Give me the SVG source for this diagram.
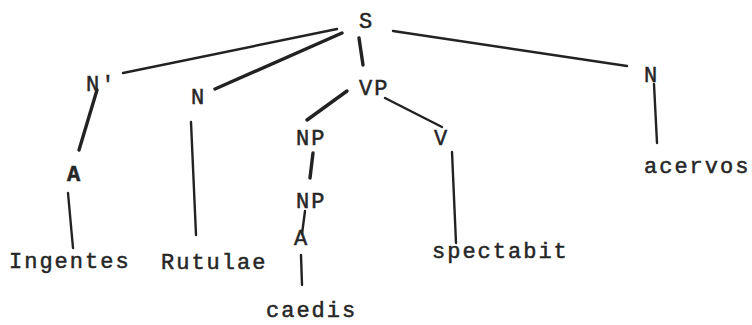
<svg xmlns="http://www.w3.org/2000/svg" width="752" height="325" viewBox="0 0 752 325">
<style>
text{font-family:"Liberation Mono","Courier New",monospace;font-size:22px;letter-spacing:2px;fill:#262626;stroke:#262626;stroke-width:0.5}
.e{stroke:#222;stroke-width:2.4;stroke-linecap:round;fill:none}
.t{stroke-width:3.4}
</style>
<rect width="752" height="325" fill="#fff"/>
<g id="connectors">
<line class="e" x1="337" y1="29" x2="123" y2="73"/>
<line class="e t" x1="342" y1="33" x2="215" y2="89"/>
<line class="e t" x1="359" y1="38" x2="363" y2="65"/>
<line class="e" x1="393" y1="31" x2="627" y2="66"/>
<line class="e t" x1="347" y1="91" x2="307" y2="120"/>
<line class="e" x1="385" y1="98" x2="442" y2="127"/>
<line class="e t" x1="97" y1="90" x2="79" y2="150"/>
<line class="e" x1="68" y1="193" x2="73" y2="248"/>
<line class="e" x1="191" y1="122" x2="196" y2="235"/>
<line class="e t" x1="313" y1="153" x2="310" y2="178"/>
<line class="e" x1="305" y1="211" x2="302" y2="234"/>
<line class="e" x1="301" y1="255" x2="302" y2="285"/>
<line class="e" x1="452" y1="152" x2="456" y2="243"/>
<line class="e" x1="654" y1="84" x2="657" y2="143"/>
</g>
<g id="S"><text x="359" y="28">S</text></g>
<g id="Nprime"><text x="86" y="91">N'</text></g>
<g id="N1"><text x="191" y="104">N</text></g>
<g id="VP"><text x="359" y="95">VP</text></g>
<g id="N2"><text x="644" y="82">N</text></g>
<g id="NP1"><text x="296" y="145">NP</text></g>
<g id="V"><text x="434" y="145">V</text></g>
<g id="NP2"><text x="296" y="208">NP</text></g>
<g id="A2"><text x="294" y="245">A</text></g>
<g id="A1"><text x="67" y="181" font-weight="bold">A</text></g>
<g id="Ingentes"><text x="9" y="268">Ingentes</text></g>
<g id="Rutulae"><text x="161" y="269">Rutulae</text></g>
<g id="spectabit"><text x="432" y="258">spectabit</text></g>
<g id="acervos"><text x="644" y="173">acervos</text></g>
<g id="caedis"><text x="266" y="317">caedis</text></g>
</svg>
